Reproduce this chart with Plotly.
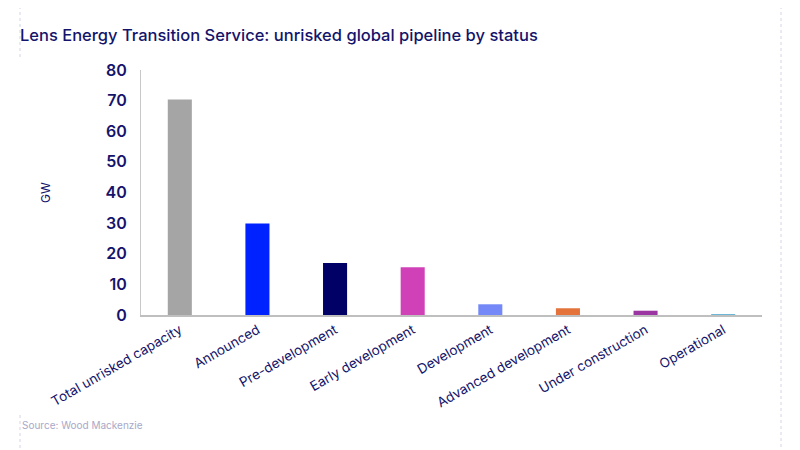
import plotly.graph_objects as go

# ---- data ----
statuses = ["Total unrisked capacity", "Announced", "Pre-development", "Early development",
            "Development", "Advanced development", "Under construction", "Operational"]
capacity_gw = [70.4, 29.9, 17.0, 15.6, 3.5, 2.2, 1.4, 0.3]
bar_colors = ["#A5A5A5", "#0022FF", "#000066", "#D041B8",
              "#7489F7", "#E3733A", "#9B35A1", "#6FB7D7"]
y_ticks = [0, 10, 20, 30, 40, 50, 60, 70, 80]

navy = "#14146B"

# the page body adds 8px, so the figure is laid out 8px smaller/shifted
W, H = 792, 442
L, R, T, B = 133, 38, 62, 135
pw, ph = W - L - R, H - T - B


def px(x):
    return (x - 8 - L) / pw


def py(y):
    return (H - B - (y - 8)) / ph


fig = go.Figure()
fig.add_trace(go.Bar(x=statuses, y=capacity_gw, marker=dict(color=bar_colors, line=dict(width=0)),
                     showlegend=False))

fig.update_layout(
    width=W, height=H,
    margin=dict(l=L, r=R, t=T, b=B, autoexpand=False),
    plot_bgcolor="white", paper_bgcolor="white",
    bargap=0.69,
    font=dict(family="Inter", color=navy),
    title=dict(text="Lens Energy Transition Service: unrisked global pipeline by status",
               x=12/W, xanchor="left", y=1-27/H, yanchor="middle",
               font=dict(size=16.5, color=navy, family="Inter", weight=500)),
)

fig.update_yaxes(range=[0, 80], tickvals=y_ticks, showgrid=False, zeroline=False,
                 showline=True, linecolor="#C8C8C8", linewidth=1, ticks="", automargin=False,
                 tickfont=dict(size=16, color=navy, weight=600), ticklabelstandoff=10,
                 title=dict(text="GW", font=dict(size=12, color=navy), standoff=52))
fig.update_xaxes(showgrid=False, showline=True, linecolor="#BFBFBF", linewidth=2, ticks="",
                 automargin=False, tickangle=-30, tickfont=dict(size=13.5, color=navy))

# source note
fig.add_annotation(text="Source: Wood Mackenzie", xref="paper", yref="paper",
                   x=px(20), y=py(425), xanchor="left", yanchor="middle",
                   showarrow=False, font=dict(size=10, color="#A8A8C8"))

# dashed frame guides
guide = dict(color="#D4D4EA", width=1, dash="dot")
fig.add_shape(type="line", xref="paper", yref="paper", x0=px(20), x1=px(20),
              y0=py(0), y1=py(58), line=guide)
fig.add_shape(type="line", xref="paper", yref="paper", x0=px(20), x1=px(20),
              y0=py(415), y1=py(450), line=guide)
fig.add_shape(type="line", xref="paper", yref="paper", x0=px(781), x1=px(781),
              y0=py(0), y1=py(450), line=guide)

fig.write_html("out.html")
